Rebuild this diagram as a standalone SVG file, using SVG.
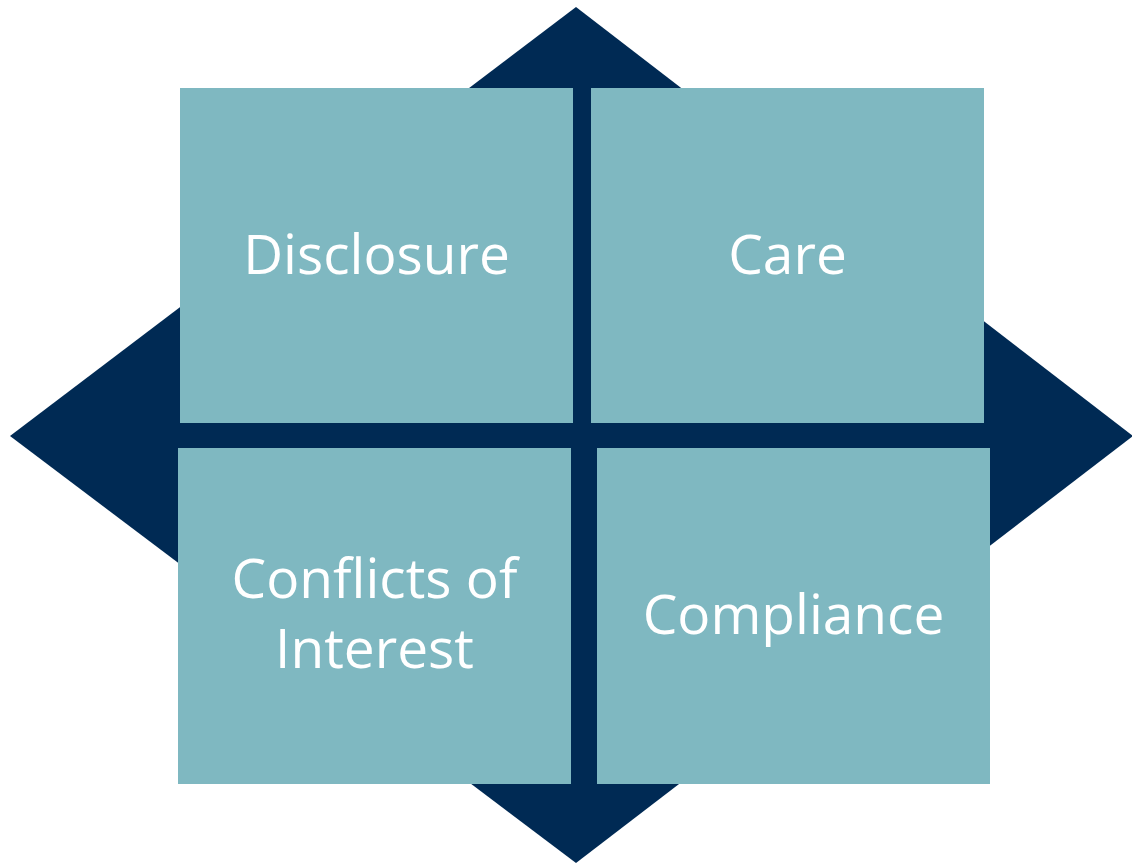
<svg xmlns="http://www.w3.org/2000/svg" width="1132" height="863" viewBox="0 0 1132 863">
<style>
.box{fill:#7FB8C1}
.lbl{fill:#FFFFFF;font-family:"Open Sans","Noto Sans",sans-serif;font-size:55px;text-anchor:middle}
</style>
<rect width="1132" height="863" fill="#FFFFFF"/>
<g id="diamond"><polygon points="576,7 1133,436 576,863 10,436" fill="#002A54"/></g>
<g id="disclosure"><rect class="box" x="180" y="88" width="393" height="335"/><text class="lbl" x="376.5" y="274">Disclosure</text></g>
<g id="care"><rect class="box" x="591" y="88" width="393" height="335"/><text class="lbl" x="787.5" y="274">Care</text></g>
<g id="conflicts"><rect class="box" x="178" y="448" width="393" height="336"/><text class="lbl" x="374.5" y="598">Conflicts of</text><text class="lbl" x="374.5" y="668">Interest</text></g>
<g id="compliance"><rect class="box" x="597" y="448" width="393" height="336"/><text class="lbl" x="793.5" y="634">Compliance</text></g>
<g id="connectors"></g>
</svg>
